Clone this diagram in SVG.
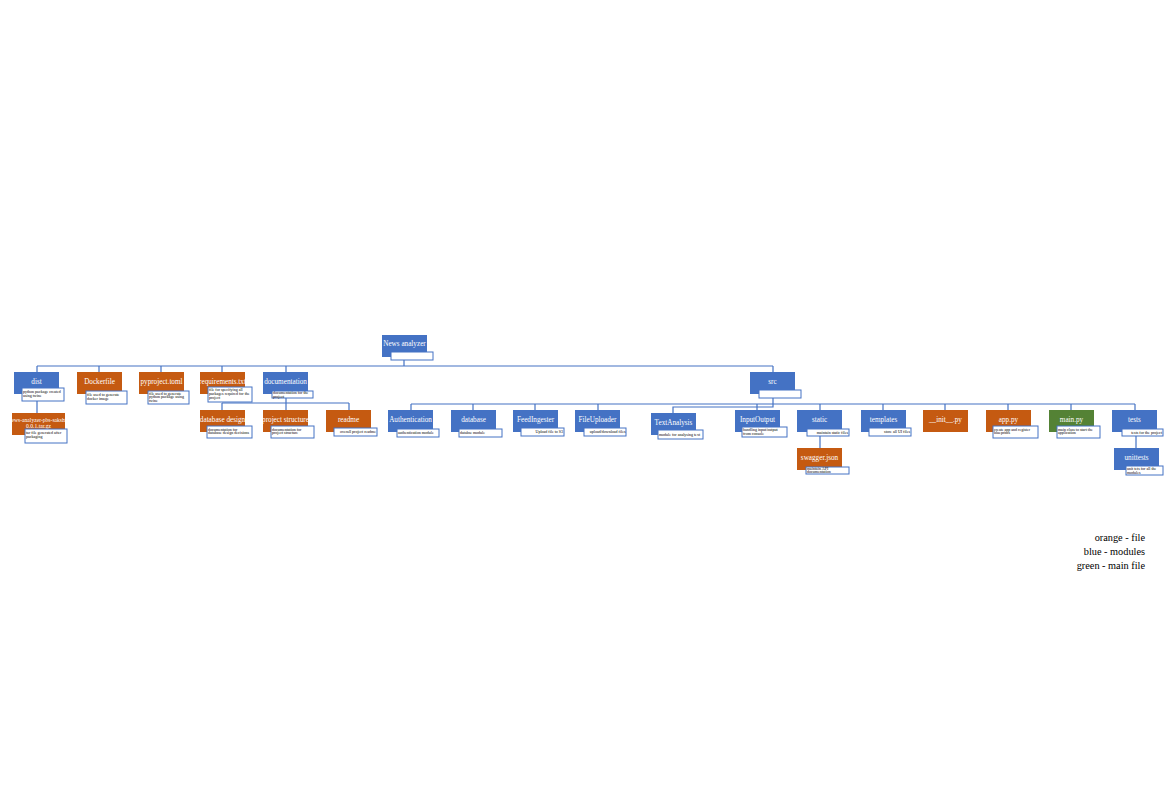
<svg xmlns="http://www.w3.org/2000/svg" width="1175" height="809" viewBox="0 0 1175 809">
<style>
.n{stroke:none}
.b{fill:#4472C4}
.o{fill:#C55A11}
.g{fill:#548235}
.l{fill:#fff;stroke:#4472C4;stroke-width:1}
.t{font-family:"Liberation Serif",serif;font-size:7.2px;fill:#fff;text-anchor:middle}
.s{font-family:"Liberation Serif",serif;font-size:4px;fill:#000}
.e{text-anchor:end}
.c{fill:none;stroke:#4472C4;stroke-width:1.2}
.lg{font-family:"Liberation Serif",serif;font-size:10.3px;fill:#000;text-anchor:end}
</style>
<rect width="1175" height="809" fill="#fff"/>
<g id="connectors">
<path class="c" d="M404 360V366M37 366H773M37 366V372M99 366V372M161 366V372M222 366V372M286 366V372M773 366V372"/>
<path class="c" d="M37 401V413"/>
<path class="c" d="M286 398V403M222 403H349M222 403V410M286 403V410M349 403V410"/>
<path class="c" d="M773 398V404M411 404H1135M411 404V410M473 404V410M535 404V410M598 404V410M757 404V410M820 404V410M883 404V410M945 404V410M1008 404V410M1071 404V410M1135 404V410"/>
<path class="c" d="M773 404V407H673V413"/>
<path class="c" d="M820 435V448M1136 436V448"/>
</g>
<g id="news-analyzer"><rect class="b" x="382" y="335" width="45" height="22"/><text class="t" x="404.5" y="346">News analyzer</text><rect class="l" x="391" y="352" width="42" height="8"/></g>
<g id="dist"><rect class="b" x="14" y="372" width="45" height="22"/><text class="t" x="36.5" y="384">dist</text><rect class="l" x="22" y="388" width="42" height="13"/><text class="s" x="23" y="392.5">python package created<tspan x="23" dy="4">using twine</tspan></text></g>
<g id="dockerfile"><rect class="o" x="77" y="372" width="45" height="22"/><text class="t" x="99.5" y="384">Dockerfile</text><rect class="l" x="86" y="391" width="41" height="13"/><text class="s" x="87" y="395.5">file used to generate<tspan x="87" dy="4">docker image</tspan></text></g>
<g id="pyproject"><rect class="o" x="139" y="372" width="45" height="22"/><text class="t" x="161.5" y="384">pyproject.toml</text><rect class="l" x="148" y="391" width="41" height="13"/><text class="s" x="149" y="394.5">file used to generate<tspan x="149" dy="3.8">python package using</tspan><tspan x="149" dy="3.8">twine</tspan></text></g>
<g id="requirements"><rect class="o" x="200" y="372" width="45" height="22"/><text class="t" x="222.5" y="384">requirements.txt</text><rect class="l" x="208" y="387" width="44" height="15"/><text class="s" x="209" y="391">file for specifying all<tspan x="209" dy="3.8">packages required for the</tspan><tspan x="209" dy="3.8">project</tspan></text></g>
<g id="documentation"><rect class="b" x="263" y="372" width="45" height="22"/><text class="t" x="285.5" y="384">documentation</text><rect class="l" x="272" y="391" width="41" height="7"/><text class="s" x="273" y="394.3">documentation for the<tspan x="273" dy="3.5">project</tspan></text></g>
<g id="src"><rect class="b" x="750" y="372" width="45" height="22"/><text class="t" x="772.5" y="384">src</text><rect class="l" x="759" y="390" width="42" height="8"/></g>
<g id="tar"><rect class="o" x="12" y="413" width="53" height="22"/><text class="t" x="38.5" y="422" style="font-size:5.6px">news-analyzer-pbs-sakshi-<tspan x="38.5" dy="5.5">0.0.1.tar.gz</tspan></text><rect class="l" x="25" y="429" width="42" height="14"/><text class="s" x="26" y="434">tar file generated after<tspan x="26" dy="4">packaging</tspan></text></g>
<g id="database-design"><rect class="o" x="200" y="410" width="45" height="22"/><text class="t" x="222.5" y="422">database design</text><rect class="l" x="207" y="426" width="45" height="12"/><text class="s" x="208" y="430.5">documentation for<tspan x="208" dy="3.8">database design decisions</tspan></text></g>
<g id="project-structure"><rect class="o" x="263" y="410" width="45" height="22"/><text class="t" x="285.5" y="422">project structure</text><rect class="l" x="271" y="426" width="43" height="12"/><text class="s" x="272" y="430.5">documentation for<tspan x="272" dy="3.8">project structure</tspan></text></g>
<g id="readme"><rect class="o" x="326" y="410" width="45" height="22"/><text class="t" x="348.5" y="422">readme</text><rect class="l" x="334" y="428" width="43" height="8"/><text class="s e" x="376" y="433.3">overall project readme</text></g>
<g id="authentication"><rect class="b" x="388" y="410" width="45" height="22"/><text class="t" x="410.5" y="422">Authentication</text><rect class="l" x="397" y="429" width="42" height="8"/><text class="s" x="398" y="434.3">authentication module</text></g>
<g id="database"><rect class="b" x="451" y="410" width="45" height="22"/><text class="t" x="473.5" y="422">database</text><rect class="l" x="459" y="429" width="43" height="8"/><text class="s" x="460" y="434.3">databse module</text></g>
<g id="feedingester"><rect class="b" x="513" y="410" width="45" height="22"/><text class="t" x="535.5" y="422">FeedIngester</text><rect class="l" x="521" y="428" width="43" height="8"/><text class="s e" x="563" y="433.3">Upload file to S3</text></g>
<g id="fileuploader"><rect class="b" x="575" y="410" width="45" height="22"/><text class="t" x="597.5" y="422">FileUploader</text><rect class="l" x="584" y="428" width="42" height="8"/><text class="s e" x="625.5" y="433.3">upload/download files</text></g>
<g id="textanalysis"><rect class="b" x="651" y="413" width="45" height="22"/><text class="t" x="673.5" y="425">TextAnalysis</text><rect class="l" x="658" y="430" width="45" height="9"/><text class="s" x="659" y="435.5">module for analysing text</text></g>
<g id="inputoutput"><rect class="b" x="735" y="410" width="45" height="22"/><text class="t" x="757.5" y="422">InputOutput</text><rect class="l" x="742" y="427" width="45" height="10"/><text class="s" x="743" y="430.8">handling input/output<tspan x="743" dy="3.8">from console</tspan></text></g>
<g id="static"><rect class="b" x="797" y="410" width="45" height="22"/><text class="t" x="819.5" y="422">static</text><rect class="l" x="807" y="429" width="42" height="7"/><text class="s e" x="848" y="433.8">maintain static files</text></g>
<g id="templates"><rect class="b" x="861" y="410" width="45" height="22"/><text class="t" x="883.5" y="422">templates</text><rect class="l" x="869" y="428" width="42" height="8"/><text class="s e" x="910" y="433.3">store all UI files</text></g>
<g id="init"><rect class="o" x="923" y="410" width="45" height="22"/><text class="t" x="945.5" y="422">__init__.py</text></g>
<g id="app"><rect class="o" x="986" y="410" width="45" height="22"/><text class="t" x="1008.5" y="422">app.py</text><rect class="l" x="993" y="426" width="45" height="12"/><text class="s" x="994" y="430.5">create app and register<tspan x="994" dy="3.8">blueprints</tspan></text></g>
<g id="main"><rect class="g" x="1049" y="410" width="45" height="22"/><text class="t" x="1071.5" y="422">main.py</text><rect class="l" x="1057" y="426" width="43" height="12"/><text class="s" x="1058" y="430.5">main class to start the<tspan x="1058" dy="3.8">application</tspan></text></g>
<g id="tests"><rect class="b" x="1112" y="410" width="45" height="22"/><text class="t" x="1134.5" y="422">tests</text><rect class="l" x="1122" y="429" width="41" height="7"/><text class="s e" x="1162" y="433.8">tests for the project</text></g>
<g id="swagger"><rect class="o" x="797" y="448" width="45" height="22"/><text class="t" x="819.5" y="460">swagger.json</text><rect class="l" x="806" y="467" width="43" height="7"/><text class="s" x="807" y="469.8">maintain API<tspan x="807" dy="3.6">documentation</tspan></text></g>
<g id="unittests"><rect class="b" x="1114" y="448" width="45" height="22"/><text class="t" x="1136.5" y="460">unittests</text><rect class="l" x="1126" y="466" width="37" height="9"/><text class="s" x="1127" y="469.8">unit tets for all the<tspan x="1127" dy="3.8">modules</tspan></text></g>
<g id="legend"><text class="lg" x="1145" y="541">orange - file</text><text class="lg" x="1145" y="555">blue - modules</text><text class="lg" x="1145" y="568.5">green - main file</text></g>
</svg>
